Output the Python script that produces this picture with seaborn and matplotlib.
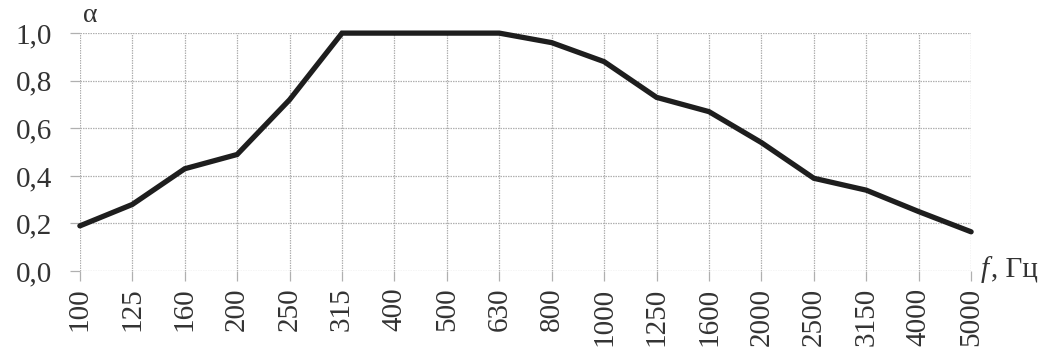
import matplotlib
matplotlib.use("Agg")
import matplotlib.pyplot as plt
import seaborn as sns
import pandas as pd

# Octave-band frequencies (Hz) and sound absorption coefficient
freqs = ["100", "125", "160", "200", "250", "315", "400", "500", "630",
         "800", "1000", "1250", "1600", "2000", "2500", "3150", "4000", "5000"]
alpha = [0.19, 0.28, 0.43, 0.49, 0.72, 1.0, 1.0, 1.0, 1.0,
         0.96, 0.88, 0.73, 0.67, 0.54, 0.39, 0.34, 0.25, 0.165]
y_ticks = [0.0, 0.2, 0.4, 0.6, 0.8, 1.0]
y_tick_labels = ["0,0", "0,2", "0,4", "0,6", "0,8", "1,0"]

df = pd.DataFrame({"f": freqs, "alpha": alpha})

sns.set_theme(style="white")
plt.rcParams["font.family"] = ["Liberation Serif", "DejaVu Serif"]

fig = plt.figure(figsize=(10.51, 3.6), dpi=100)
ax = fig.add_axes([0.076, 0.247, 0.848, 0.661])

sns.lineplot(data=df, x="f", y="alpha", sort=False, color="#1e1e1e",
             linewidth=3.8, ax=ax, clip_on=False, solid_joinstyle="miter")

ax.set_xlim(0, len(freqs) - 1)
ax.set_ylim(0, 1.0)
ax.set_xticks(range(len(freqs)))
ax.set_xticklabels(freqs, rotation=90, fontsize=21, color="#333333")
ax.set_yticks(y_ticks)
ax.set_yticklabels(y_tick_labels, fontsize=21, color="#333333")

ax.grid(True, color="#b0b0b0", linewidth=0.9, linestyle=(0, (1.2, 0.8)))
ax.set_axisbelow(True)
for s in ax.spines.values():
    s.set_visible(False)
ax.tick_params(axis="both", length=7, width=0.9, color="#b0b0b0")
ax.tick_params(axis="x", bottom=True, pad=5)
ax.tick_params(axis="y", left=True, pad=13)

ax.set_xlabel("")
ax.set_ylabel("")
ax.text(0.004, 1.02, "α", transform=ax.transAxes, fontsize=20,
        color="#333333", ha="left", va="bottom")
fig.text(0.933, 0.215, "f", fontsize=21, fontstyle="italic",
         color="#333333", ha="left", va="bottom")
fig.text(0.943, 0.215, ", Гц", fontsize=21, color="#333333",
         ha="left", va="bottom")

fig.savefig("out.png", dpi=100)
